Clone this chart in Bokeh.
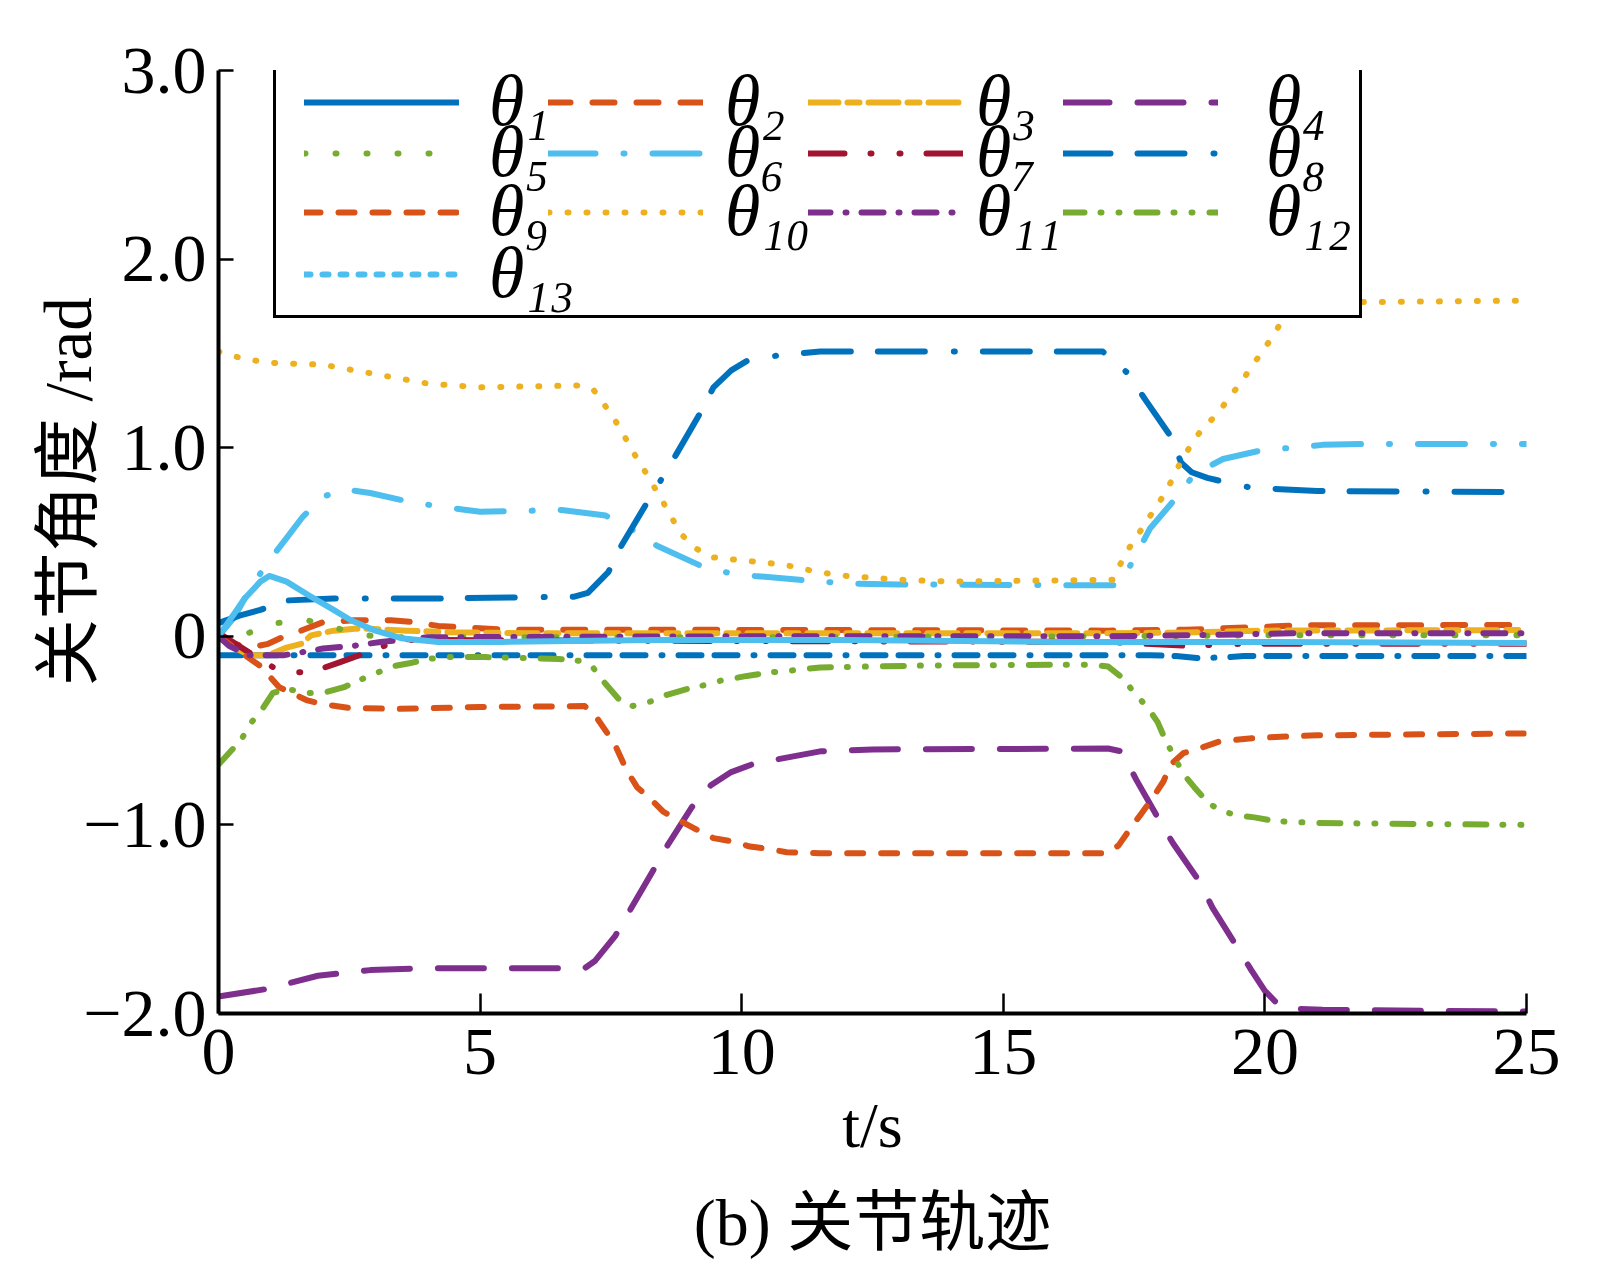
from bokeh.plotting import figure
from bokeh.models import Range1d, FixedTicker, Legend, LegendItem, Title
from bokeh.embed import file_html
from bokeh.resources import INLINE

SERIF = "Liberation Serif, Noto Sans CJK SC"

# joint trajectories: time [s] and angle [rad]
t1 = [0, 5, 10, 15, 17.8, 18.3, 18.7, 19.2, 19.6, 22, 25]
q1 = [-0.10, -0.10, -0.10, -0.10, -0.10, -0.105, -0.115, -0.112, -0.105, -0.105, -0.105]

t2 = [0, 0.3, 0.6, 0.95, 1.26, 1.58, 2.0, 2.6, 3.3, 3.74, 4.2, 4.8, 5.5, 8, 12, 17, 18.5, 19.8, 20.7, 25]
q2 = [0, -0.04, -0.06, -0.04, 0.0, 0.03, 0.075, 0.085, 0.085, 0.075, 0.055, 0.045, 0.035, 0.035, 0.033,
      0.03, 0.035, 0.048, 0.058, 0.06]

t3 = [0, 0.3, 0.6, 0.95, 1.3, 1.58, 1.77, 2.2, 2.6, 2.9, 3.6, 4.4, 6, 17, 18.5, 20, 25]
q3 = [0, -0.06, -0.1, -0.1, -0.06, -0.04, 0.005, 0.03, 0.04, 0.04, 0.03, 0.022, 0.016, 0.016, 0.02, 0.03, 0.033]

t4 = [0, 0.92, 1.9, 2.9, 3.9, 5, 7.0, 7.2, 7.58, 7.87, 8.31, 8.6, 9.05, 9.41, 9.8, 10.19, 10.73, 11.5, 12.5,
      17.0, 17.26, 17.54, 17.96, 18.25, 18.75, 19.0, 19.45, 19.74, 20.0, 20.28, 20.6, 21.1, 25]
q4 = [-1.91, -1.87, -1.8, -1.77, -1.76, -1.76, -1.76, -1.72, -1.59, -1.45, -1.24, -1.10, -0.905, -0.79, -0.72,
      -0.68, -0.65, -0.61, -0.6, -0.595, -0.61, -0.76, -0.965, -1.1, -1.30, -1.44, -1.64, -1.77, -1.88, -1.96,
      -1.975, -1.98, -1.99]

t5 = [0, 0.56, 1.1, 1.7, 2.3, 2.8, 3.5, 10, 17, 20, 25]
q5 = [0, 0.016, 0.07, 0.085, 0.04, 0.005, -0.005, -0.005, 0.0, 0.005, 0.005]

t6 = [0, 0.3, 0.6, 0.96, 1.3, 1.6, 2.0, 2.4, 2.9, 3.7, 4.45, 5, 6.56, 7.4, 8.0, 8.38, 9.17, 9.68, 10.25, 11.1,
      12, 13, 17.2, 17.5, 17.8, 18.35, 18.65, 19.2, 20, 20.6, 21.1, 22, 25]
q6 = [0, 0.1, 0.25, 0.40, 0.52, 0.63, 0.74, 0.78, 0.76, 0.71, 0.68, 0.66, 0.67, 0.64, 0.55, 0.48, 0.38, 0.34,
      0.32, 0.30, 0.28, 0.275, 0.27, 0.41, 0.57, 0.75, 0.86, 0.94, 0.99, 1.0, 1.015, 1.02, 1.02]

t7 = [0, 0.1, 0.72, 1.2, 1.77, 2.3, 3.1, 3.4, 4, 10, 17, 18.5, 19.5, 25]
q7 = [0, 0.0, -0.11, -0.19, -0.19, -0.14, -0.06, -0.02, -0.02, -0.025, -0.03, -0.05, -0.04, -0.04]

t8 = [0, 0.4, 0.8, 1.3, 2.2, 4, 6.8, 7.06, 7.45, 7.7, 8.15, 8.46, 8.76, 9.2, 9.46, 9.8, 10.1, 10.7, 11.5,
      16.9, 17.4, 17.7, 18.2, 18.4, 18.6, 18.9, 19.2, 19.7, 20.3, 21, 25]
q8 = [0.07, 0.11, 0.14, 0.19, 0.2, 0.2, 0.21, 0.23, 0.34, 0.48, 0.69, 0.83, 0.97, 1.18, 1.32, 1.41, 1.46, 1.49,
      1.51, 1.51, 1.39, 1.26, 1.06, 0.92, 0.87, 0.84, 0.82, 0.79, 0.78, 0.77, 0.765]

t9 = [0, 0.4, 0.81, 1.16, 1.39, 1.7, 2.0, 2.5, 3.4, 5, 7.0, 7.25, 7.57, 7.8, 8.0, 8.25, 8.5, 8.8, 9.17, 9.46,
      9.87, 10.16, 10.57, 10.86, 11.5, 16.97, 17.2, 17.45, 17.64, 17.87, 18.06, 18.2, 18.44, 18.79, 19.11,
      19.5, 19.8, 20.5, 21, 25]
q9 = [0, -0.08, -0.16, -0.27, -0.3, -0.34, -0.36, -0.38, -0.385, -0.375, -0.37, -0.44, -0.57, -0.71, -0.8,
      -0.86, -0.93, -0.975, -1.03, -1.07, -1.09, -1.115, -1.13, -1.145, -1.15, -1.15, -1.11, -1.01, -0.94,
      -0.85, -0.77, -0.68, -0.62, -0.59, -0.56, -0.547, -0.54, -0.53, -0.525, -0.515]

t10 = [0, 0.5, 1, 2, 3, 4, 5, 6.85, 7.16, 7.37, 7.57, 7.76, 7.94, 8.12, 8.31, 8.48, 8.66, 8.85, 9.1, 9.41,
       9.74, 10.1, 10.45, 10.8, 11.15, 11.46, 12, 13, 14, 17.1, 17.3, 17.5, 17.7, 17.9, 18.1, 18.4, 18.6, 18.8,
       19.1, 19.3, 19.5, 19.7, 19.9, 20.1, 20.3, 20.5, 21, 25]
q10 = [1.51, 1.47, 1.45, 1.44, 1.39, 1.34, 1.32, 1.33, 1.31, 1.23, 1.15, 1.06, 0.97, 0.89, 0.80, 0.72, 0.63,
       0.54, 0.47, 0.42, 0.41, 0.40, 0.39, 0.38, 0.36, 0.34, 0.32, 0.30, 0.29, 0.30, 0.42, 0.51, 0.59, 0.68,
       0.76, 0.93, 1.02, 1.10, 1.18, 1.26, 1.33, 1.41, 1.49, 1.57, 1.66, 1.73, 1.77, 1.78]

t11 = [0, 0.2, 0.55, 1.26, 2.0, 2.6, 3.1, 4.0, 10, 17, 19.5, 20.5, 25]
q11 = [0, -0.05, -0.1, -0.1, -0.065, -0.05, -0.03, -0.005, 0.0, 0.0, 0.01, 0.016, 0.016]

t12 = [0, 0.43, 0.62, 0.85, 1.04, 1.33, 1.67, 2.0, 2.4, 2.67, 2.98, 3.3, 3.7, 4.0, 4.4, 5.1, 6.5, 6.9, 7.17,
       7.36, 7.64, 7.92, 8.27, 8.57, 8.95, 9.27, 9.6, 10.1, 10.6, 11.0, 11.5, 12.5, 13.5, 16.7, 17.0, 17.3,
       17.5, 17.75, 17.95, 18.1, 18.27, 18.44, 18.65, 18.92, 19.2, 19.5, 19.8, 20.2, 20.6, 21, 25]
q12 = [-0.68, -0.55, -0.46, -0.38, -0.3, -0.28, -0.30, -0.3, -0.27, -0.235, -0.2, -0.16, -0.14, -0.12, -0.11,
       -0.11, -0.12, -0.13, -0.17, -0.24, -0.33, -0.37, -0.345, -0.31, -0.28, -0.26, -0.235, -0.21, -0.19,
       -0.18, -0.165, -0.16, -0.155, -0.15, -0.16, -0.225, -0.30, -0.375, -0.455, -0.55, -0.64, -0.73, -0.80,
       -0.885, -0.93, -0.95, -0.96, -0.98, -0.985, -0.99, -1.0]

t13 = [0, 0.3, 0.5, 0.8, 0.97, 1.3, 1.77, 2.2, 2.53, 3.0, 3.49, 4.2, 5.4, 8.3, 12, 16, 20, 25]
q13 = [0, 0.12, 0.2, 0.29, 0.32, 0.29, 0.21, 0.14, 0.085, 0.03, -0.01, -0.03, -0.03, -0.02, -0.02, -0.03,
       -0.03, -0.035]

labels = ["θ₁", "θ₂", "θ₃", "θ₄", "θ₅", "θ₆", "θ₇", "θ₈", "θ₉", "θ₁₀", "θ₁₁", "θ₁₂", "θ₁₃"]
x_ticks = [0, 5, 10, 15, 20, 25]
y_ticks = [-2, -1, 0, 1, 2, 3]
y_tick_labels = ["−2.0", "−1.0", "0", "1.0", "2.0", "3.0"]

# matlab colour order, one style per joint
BLUE, ORANGE, YELLOW, PURPLE = "#0072BD", "#D95319", "#EDB120", "#7E2F8E"
GREEN, CYAN, RED = "#77AC30", "#4DBEEE", "#A2142F"
colours = [BLUE, ORANGE, YELLOW, PURPLE, GREEN, CYAN, RED, BLUE, ORANGE, YELLOW, PURPLE, GREEN, CYAN]
dashes = ["23 13 23 16 1 16", "22 22", "30 9 12 9", "46 28", "1 30", "47 28 1 28", "36 26 1 28 1 26",
          "47 27 47 29 1 28", "16 18", "1 18", "22 15 1 15", "21 16 1 17 1 17", "solid"]

series = [(t1, q1), (t2, q2), (t3, q3), (t4, q4), (t5, q5), (t6, q6), (t7, q7),
          (t8, q8), (t9, q9), (t10, q10), (t11, q11), (t12, q12), (t13, q13)]

# legend grid, screen px from the frame's left / bottom edge
LEG_COL_X = [86, 330, 590, 845]
LEG_COL_STANDOFF = [30, 22, 13, 48]
LEG_ROW_Y = [870, 819, 760, 698]
LEG_ROW_H = 80

p = figure(frame_width=1308, frame_height=943, min_border_left=218, min_border_right=70,
           min_border_top=70, min_border_bottom=262, x_range=Range1d(0, 25), y_range=Range1d(-2, 3),
           output_backend="svg", toolbar_location=None, title=None)
p.outline_line_color = None
p.grid.visible = False
p.background_fill_color = "white"
p.border_fill_color = "white"

renderers = []
for (t, q), c, d in zip(series, colours, dashes):
    r = p.line(t, q, line_color=c, line_width=6, line_dash=d, line_cap="round", line_join="round")
    renderers.append(r)

# the legend shows theta1 solid and theta13 dotted, unlike the traces;
# single-point lines draw nothing but give the legend a glyph to copy
proxy1 = p.line(t1[:1], q1[:1], line_color=BLUE, line_width=6, line_cap="round")
proxy13 = p.line(t13[:1], q13[:1], line_color=CYAN, line_width=6, line_dash="6 12", line_cap="round")
legend_renderers = [proxy1] + renderers[1:12] + [proxy13]

# white boxed frame behind the legend entries
blank = p.line(t1[:1], q1[:1], line_alpha=0)
box = Legend(items=[LegendItem(label=" ", renderers=[blank])], location=(55, 695),
             glyph_width=1083, glyph_height=249, label_width=0, label_height=0, label_standoff=0,
             label_text_font_size="1px", padding=0, margin=0, spacing=0,
             border_line_color="black", border_line_width=3, border_line_alpha=1,
             background_fill_color="white", background_fill_alpha=1)
p.add_layout(box)

for i, (lab, r) in enumerate(zip(labels, legend_renderers)):
    row, col = divmod(i, 4)
    cell = Legend(items=[LegendItem(label=lab, renderers=[r])],
                  location=(LEG_COL_X[col], LEG_ROW_Y[row]),
                  glyph_width=155, glyph_height=20, label_standoff=LEG_COL_STANDOFF[col],
                  label_height=LEG_ROW_H, padding=0, margin=0, spacing=0,
                  border_line_alpha=0, background_fill_alpha=0,
                  label_text_font="Liberation Serif", label_text_font_style="italic",
                  label_text_font_size="72px", label_text_color="black")
    p.add_layout(cell)

for ax in (p.xaxis, p.yaxis):
    ax.axis_line_width = 4
    ax.axis_line_color = "black"
    ax.major_tick_line_width = 2.5
    ax.major_tick_line_color = "black"
    ax.major_tick_out = 0
    ax.minor_tick_line_color = None
    ax.major_label_text_font = "Liberation Serif"
    ax.major_label_text_font_size = "68px"
    ax.major_label_text_color = "black"
    ax.axis_label_text_font = SERIF
    ax.axis_label_text_font_style = "normal"
    ax.axis_label_text_color = "black"

p.xaxis.ticker = FixedTicker(ticks=x_ticks)
p.xaxis.major_tick_in = 20
p.xaxis.major_label_standoff = 16
p.xaxis.axis_label = "t/s"
p.xaxis.axis_label_text_font_size = "64px"
p.xaxis.axis_label_standoff = 13

p.yaxis.ticker = FixedTicker(ticks=y_ticks)
p.yaxis.major_tick_in = 15
p.yaxis.major_label_standoff = 12
p.yaxis.major_label_overrides = dict(zip(y_ticks, y_tick_labels))
# leading no-break spaces lift the label a little above the frame centre, as in the original
p.yaxis.axis_label = "\u00a0" * 6 + "关节角度 /rad"
p.yaxis.axis_label_text_font_size = "67px"
p.yaxis.axis_label_standoff = -25

caption = Title(text="(b) 关节轨迹", align="center", text_font=SERIF, text_font_size="66px",
                text_font_style="normal", text_color="black", standoff=40)
p.add_layout(caption, "below")

open("out.html", "w").write(file_html(p, INLINE))
